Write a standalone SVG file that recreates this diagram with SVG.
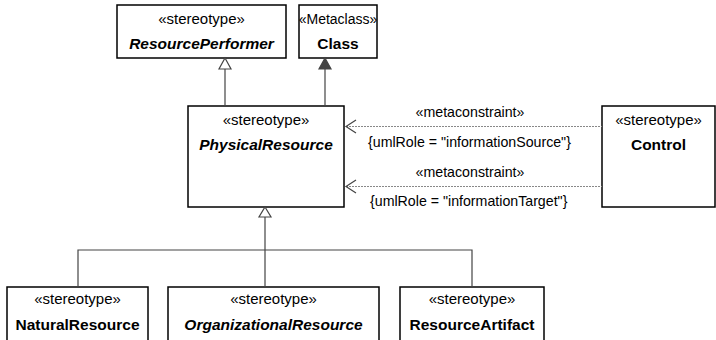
<svg xmlns="http://www.w3.org/2000/svg" width="716" height="340" viewBox="0 0 716 340">
<style>
.box{fill:#fff;stroke:#000;stroke-width:1.5}
.st{font-family:"Liberation Sans",Arial,sans-serif;font-size:15px;fill:#000;text-anchor:middle}
.nm{font-family:"Liberation Sans",Arial,sans-serif;font-size:15.5px;font-weight:bold;fill:#000;text-anchor:middle}
.it{font-style:italic}
.lb{font-family:"Liberation Sans",Arial,sans-serif;font-size:14.2px;fill:#000}
.ln{fill:none;stroke:#444;stroke-width:1.2}
.dash{fill:none;stroke:#888;stroke-width:1;stroke-dasharray:2,1}
.open{fill:#fff;stroke:#444;stroke-width:1.2}
.fill{fill:#444;stroke:#444;stroke-width:1.2}
</style>
<g id="ResourcePerformer">
<rect class="box" x="117" y="5" width="169" height="53"/>
<text class="st" x="201.5" y="24">«stereotype»</text>
<text class="nm it" x="201.5" y="49">ResourcePerformer</text>
</g>
<g id="Class">
<rect class="box" x="299" y="5" width="78" height="53"/>
<text class="st" x="338" y="24" style="font-size:14px">«Metaclass»</text>
<text class="nm" x="338" y="49">Class</text>
</g>
<g id="PhysicalResource">
<rect class="box" x="188" y="106" width="156" height="101"/>
<text class="st" x="266" y="125">«stereotype»</text>
<text class="nm it" x="266" y="150">PhysicalResource</text>
</g>
<g id="Control">
<rect class="box" x="602" y="106" width="113" height="101"/>
<text class="st" x="658.5" y="125">«stereotype»</text>
<text class="nm" x="658.5" y="150">Control</text>
</g>
<g id="NaturalResource">
<rect class="box" x="7" y="287" width="141" height="70"/>
<text class="st" x="77.5" y="304">«stereotype»</text>
<text class="nm" x="77.5" y="330">NaturalResource</text>
</g>
<g id="OrganizationalResource">
<rect class="box" x="168" y="287" width="211" height="70"/>
<text class="st" x="273.5" y="304">«stereotype»</text>
<text class="nm it" x="273.5" y="330">OrganizationalResource</text>
</g>
<g id="ResourceArtifact">
<rect class="box" x="400" y="287" width="144" height="70"/>
<text class="st" x="472" y="304">«stereotype»</text>
<text class="nm" x="472" y="330">ResourceArtifact</text>
</g>
<g id="connectors">
<path class="ln" d="M225 69 V106"/>
<path class="open" d="M225 58 L231 69 L219 69 Z"/>
<path class="ln" d="M325 69 V106"/>
<path class="fill" d="M325 58 L331 69 L319 69 Z"/>
<path class="ln" d="M265 217 V287 M78 287 V250 H472 V287"/>
<path class="open" d="M265 207 L271 217 L259 217 Z"/>
<path class="dash" d="M346 126.5 H602"/>
<path class="ln" d="M356 120 L346 126.5 L356 133"/>
<path class="dash" d="M346 186.5 H602"/>
<path class="ln" d="M356 180 L346 186.5 L356 193"/>
<text class="lb" x="470" y="117" text-anchor="middle">«metaconstraint»</text>
<text class="lb" x="368" y="147">{umlRole = "informationSource"}</text>
<text class="lb" x="470" y="177" text-anchor="middle">«metaconstraint»</text>
<text class="lb" x="370" y="206">{umlRole = "informationTarget"}</text>
</g>
</svg>
